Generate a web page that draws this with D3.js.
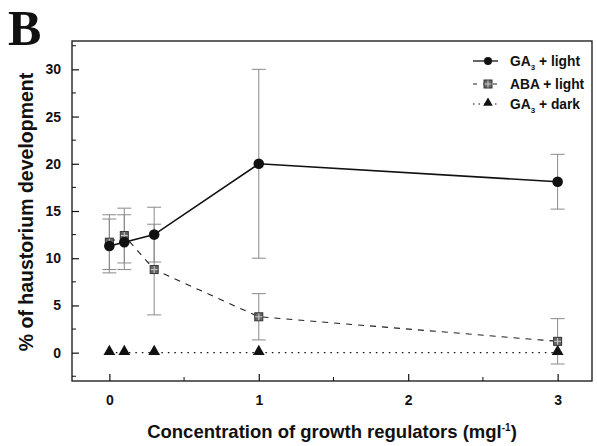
<!DOCTYPE html>
<html>
<head>
<meta charset="utf-8">
<script src="https://cdn.jsdelivr.net/npm/d3@7"></script>
<style>
  body { margin: 0; background: #fff; }
  text { font-family: "Liberation Sans", Arial, sans-serif; font-weight: bold; }
</style>
</head>
<body>
<script>
// data
var conc = [0, 0.1, 0.3, 1, 3];
var ga3Light = [11.3, 11.7, 12.5, 20.0, 18.1];
var ga3LightErr = [2.85, 2.9, 2.9, 10.0, 2.9];
var abaLight = [11.7, 12.4, 8.8, 3.8, 1.2];
var abaLightErr = [2.9, 2.9, 4.8, 2.45, 2.4];
var ga3Dark = [0, 0, 0, 0, 0];
var xTicks = [0, 1, 2, 3];
var yTicks = [0, 5, 10, 15, 20, 25, 30];

var width = 597, height = 446;
var margin = {top: 41, right: 5, bottom: 65, left: 72};

var svg = d3.select("body").append("svg")
    .attr("width", width)
    .attr("height", height);

var x = d3.scaleLinear().domain([-0.25, 3.23]).range([margin.left, width - margin.right]);
var y = d3.scaleLinear().domain([-3, 33]).range([height - margin.bottom, margin.top]);

// frame
svg.append("rect")
    .attr("x", x.range()[0]).attr("y", y.range()[1])
    .attr("width", x.range()[1] - x.range()[0])
    .attr("height", y.range()[0] - y.range()[1])
    .attr("fill", "none").attr("stroke", "#111").attr("stroke-width", 1.3);

// axes (ticks pointing inward)
var xAxis = d3.axisBottom(x).tickValues(xTicks).tickSizeInner(-7).tickSizeOuter(0).tickPadding(14).tickFormat(d3.format("d"));
var yAxis = d3.axisLeft(y).tickValues(yTicks).tickSizeInner(-7).tickSizeOuter(0).tickPadding(11).tickFormat(d3.format("d"));

var gx = svg.append("g").attr("transform", "translate(0," + y.range()[0] + ")").call(xAxis);
var gy = svg.append("g").attr("transform", "translate(" + x.range()[0] + ",0)").call(yAxis);
[gx, gy].forEach(function(g) {
  g.select(".domain").remove();
  g.selectAll("line").attr("stroke", "#111").attr("stroke-width", 1.2);
  g.selectAll("text").attr("font-size", 14).attr("fill", "#111");
});

// minor ticks
var xMinor = [0.5, 1.5, 2.5];
svg.append("g").selectAll("line").data(xMinor).enter().append("line")
    .attr("x1", function(d) { return x(d); }).attr("x2", function(d) { return x(d); })
    .attr("y1", y.range()[0]).attr("y2", y.range()[0] - 4)
    .attr("stroke", "#111").attr("stroke-width", 1);
var yMinor = [-2.5, 2.5, 7.5, 12.5, 17.5, 22.5, 27.5, 32.5];
svg.append("g").selectAll("line").data(yMinor).enter().append("line")
    .attr("y1", function(d) { return y(d); }).attr("y2", function(d) { return y(d); })
    .attr("x1", x.range()[0]).attr("x2", x.range()[0] + 4)
    .attr("stroke", "#111").attr("stroke-width", 1);

// error bars
function errorBars(vals, errs) {
  var g = svg.append("g").attr("stroke", "#8a8a8a").attr("stroke-width", 1);
  conc.forEach(function(c, i) {
    var cx = x(c), hi = y(vals[i] + errs[i]), lo = y(vals[i] - errs[i]);
    g.append("line").attr("x1", cx).attr("x2", cx).attr("y1", hi).attr("y2", lo);
    g.append("line").attr("x1", cx - 7).attr("x2", cx + 7).attr("y1", hi).attr("y2", hi);
    g.append("line").attr("x1", cx - 7).attr("x2", cx + 7).attr("y1", lo).attr("y2", lo);
  });
}
errorBars(abaLight, abaLightErr);
errorBars(ga3Light, ga3LightErr);

var line = function(vals) {
  return d3.line().x(function(d, i) { return x(conc[i]); }).y(function(d) { return y(d); })(vals);
};

// series lines
svg.append("path").attr("d", line(ga3Dark)).attr("fill", "none")
    .attr("stroke", "#111").attr("stroke-width", 1.2).attr("stroke-dasharray", "1.5,5");
svg.append("path").attr("d", line(abaLight)).attr("fill", "none")
    .attr("stroke", "#222").attr("stroke-width", 1.1).attr("stroke-dasharray", "6,6");
svg.append("path").attr("d", line(ga3Light)).attr("fill", "none")
    .attr("stroke", "#111").attr("stroke-width", 1.6);

// markers
function square(g, cx, cy) {
  g.append("rect").attr("x", cx - 4).attr("y", cy - 4).attr("width", 8).attr("height", 8)
      .attr("fill", "#666").attr("stroke", "#333").attr("stroke-width", 1);
  g.append("line").attr("x1", cx - 3.5).attr("x2", cx + 3.5).attr("y1", cy).attr("y2", cy)
      .attr("stroke", "#ccc").attr("stroke-width", 1);
  g.append("line").attr("y1", cy - 3.5).attr("y2", cy + 3.5).attr("x1", cx).attr("x2", cx)
      .attr("stroke", "#ccc").attr("stroke-width", 1);
}
var triSym = d3.symbol().type(d3.symbolTriangle).size(60);

var gm = svg.append("g");
conc.forEach(function(c, i) {
  gm.append("path").attr("d", triSym).attr("transform", "translate(" + x(c) + "," + (y(ga3Dark[i]) - 1) + ")")
      .attr("fill", "#111");
});
conc.forEach(function(c, i) { square(gm, x(c), y(abaLight[i])); });
conc.forEach(function(c, i) {
  gm.append("circle").attr("cx", x(c)).attr("cy", y(ga3Light[i])).attr("r", 5.3).attr("fill", "#111");
});

// legend
var legend = svg.append("g");
var legY = [61, 84, 104];
var lx0 = 473, lx1 = 498, lmx = 488, ltx = 510;
legend.append("line").attr("x1", lx0).attr("x2", lx1).attr("y1", legY[0]).attr("y2", legY[0])
    .attr("stroke", "#111").attr("stroke-width", 1.3);
legend.append("circle").attr("cx", lmx).attr("cy", legY[0]).attr("r", 4).attr("fill", "#111");
legend.append("line").attr("x1", lx0).attr("x2", lx1 + 2).attr("y1", legY[1]).attr("y2", legY[1])
    .attr("stroke", "#222").attr("stroke-width", 1.1).attr("stroke-dasharray", "4,6");
square(legend, lmx, legY[1]);
legend.append("line").attr("x1", lx0).attr("x2", lx1 + 2).attr("y1", legY[2]).attr("y2", legY[2])
    .attr("stroke", "#111").attr("stroke-width", 1.2).attr("stroke-dasharray", "1.5,4");
legend.append("path").attr("d", d3.symbol().type(d3.symbolTriangle).size(40))
    .attr("transform", "translate(" + lmx + "," + (legY[2] - 1) + ")").attr("fill", "#111");

var labels = [["GA", "3", " + light"], ["ABA + light", "", ""], ["GA", "3", " + dark"]];
labels.forEach(function(l, i) {
  var t = legend.append("text").attr("x", ltx).attr("y", legY[i] + 5)
      .attr("font-size", 13.8).attr("fill", "#111");
  t.append("tspan").text(l[0]);
  if (l[1]) {
    t.append("tspan").attr("font-size", 8).attr("dy", 4).text(l[1]);
    t.append("tspan").attr("dy", -4).text(l[2]);
  }
});

// panel letter
svg.append("text").attr("x", 8).attr("y", 45)
    .style("font-family", "'Liberation Serif', 'Times New Roman', serif")
    .attr("font-size", 50).attr("fill", "#111").text("B");

// axis titles
svg.append("text")
    .attr("transform", "translate(33,212) rotate(-90)")
    .attr("text-anchor", "middle").attr("font-size", 19.5).attr("fill", "#111")
    .text("% of haustorium development");

var xt = svg.append("text").attr("x", 332).attr("y", 438)
    .attr("text-anchor", "middle").attr("font-size", 18.5).attr("fill", "#111");
xt.append("tspan").text("Concentration of growth regulators (mgl");
xt.append("tspan").attr("font-size", 10).attr("dy", -7).text("-1");
xt.append("tspan").attr("dy", 7).text(")");
</script>
</body>
</html>
